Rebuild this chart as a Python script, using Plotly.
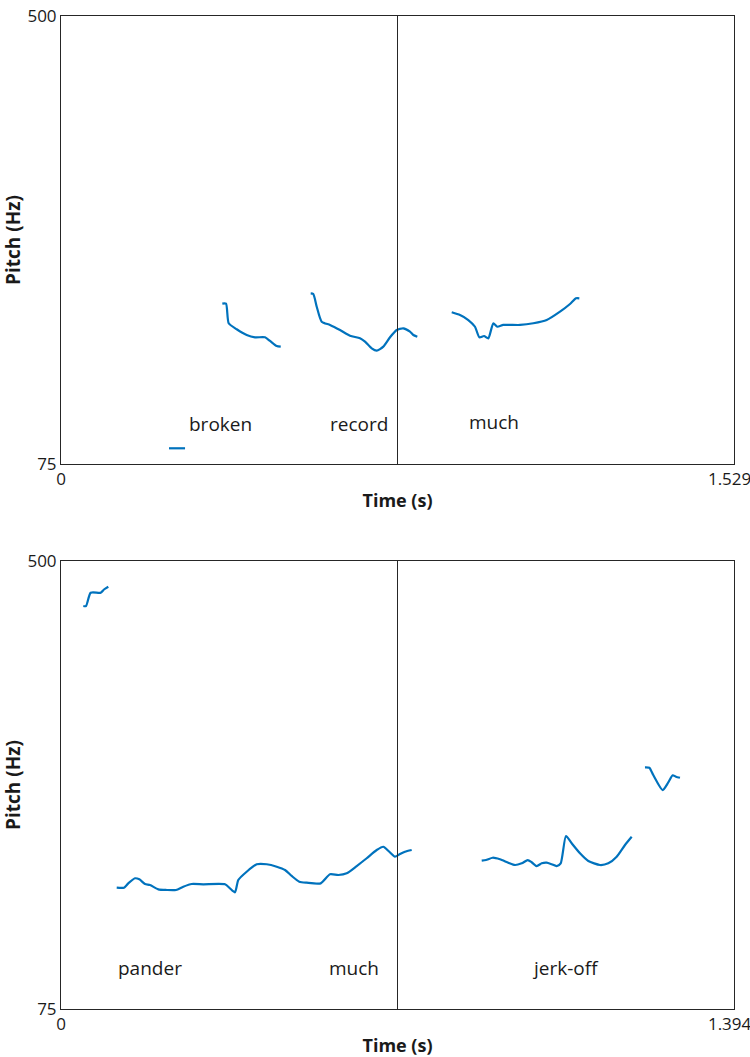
import plotly.graph_objects as go

# ---------------- data ----------------
# Top panel: "broken record much"
top_duration = 1.529
top_seg1_t = [0.2454, 0.2818]
top_seg1_f = [89.9, 89.9]
top_seg2_t = [0.3665, 0.3749, 0.3810, 0.3992, 0.4219, 0.4408, 0.4635, 0.4749, 0.4901, 0.4992]
top_seg2_f = [227.1, 227.1, 208.5, 202.8, 197.4, 195.2, 195.2, 191.7, 186.9, 186.3]
top_seg3_t = [0.5673, 0.5732, 0.5810, 0.5923, 0.6112, 0.6339, 0.6566, 0.6793, 0.6907, 0.7059,
              0.7173, 0.7323, 0.7475, 0.7627, 0.7777, 0.7929, 0.8004, 0.8095]
top_seg3_f = [236.9, 236.3, 224.2, 210.0, 206.9, 202.1, 196.7, 194.2, 191.0, 184.7,
              182.5, 186.3, 195.2, 202.1, 203.7, 200.5, 197.4, 195.8]
top_seg4_t = [0.8877, 0.9065, 0.9254, 0.9406, 0.9504, 0.9611, 0.9708, 0.9822, 0.9913, 1.0049,
              1.0429, 1.0731, 1.1035, 1.1337, 1.1564, 1.1701, 1.1776]
top_seg4_f = [218.9, 216.3, 211.6, 205.2, 195.2, 196.4, 194.2, 208.5, 205.2, 206.9,
              206.9, 208.5, 211.6, 219.5, 226.8, 232.2, 232.2]
top_words = ["broken", "record", "much"]
top_word_t = [0.3613, 0.6771, 0.9838]
top_word_f = [112.9, 112.9, 115.3]

# Bottom panel: "pander much jerk-off"
bot_duration = 1.394
bot_seg1_t = [0.0462, 0.0518, 0.0615, 0.0822, 0.0897, 0.0980]
bot_seg1_f = [457.3, 457.3, 469.9, 469.9, 473.2, 475.6]
bot_seg2_t = [0.1154, 0.1305, 0.1394, 0.1533, 0.1622, 0.1740, 0.1843, 0.2015, 0.2189, 0.2382,
              0.2533, 0.2707, 0.2947, 0.3397, 0.3500, 0.3604, 0.3672, 0.3846, 0.4054, 0.4261,
              0.4468, 0.4640, 0.4779, 0.4936, 0.5089, 0.5379, 0.5572, 0.5744, 0.5918, 0.6125,
              0.6332, 0.6539, 0.6676, 0.6800, 0.6918, 0.7022, 0.7125, 0.7264]
bot_seg2_f = [190.1, 190.1, 194.2, 199.0, 198.0, 193.6, 192.6, 188.5, 187.9, 187.9,
              191.0, 193.6, 193.3, 193.3, 189.5, 185.7, 197.4, 205.2, 212.3, 212.3,
              210.0, 206.9, 201.2, 195.8, 194.8, 194.2, 202.8, 202.1, 203.7, 210.6,
              218.0, 225.8, 228.9, 224.2, 219.5, 222.0, 224.2, 225.8]
bot_seg3_t = [0.8714, 0.8803, 0.8942, 0.9093, 0.9265, 0.9404, 0.9543, 0.9667, 0.9750, 0.9853,
              0.9957, 1.0060, 1.0164, 1.0267, 1.0350, 1.0460, 1.0578, 1.0750, 1.0922, 1.1164,
              1.1336, 1.1510, 1.1682, 1.1821]
bot_seg3_f = [215.7, 216.3, 218.5, 217.0, 213.8, 211.6, 213.2, 216.3, 214.2, 210.6,
              213.2, 213.8, 212.3, 210.6, 213.2, 239.1, 232.2, 222.7, 215.4, 211.6,
              213.2, 219.5, 230.6, 238.4]
bot_seg4_t = [1.2096, 1.2186, 1.2268, 1.2463, 1.2579, 1.2670, 1.2738, 1.2821]
bot_seg4_f = [304.3, 303.9, 297.0, 282.7, 290.0, 296.7, 295.4, 294.4]
bot_words = ["pander", "much", "jerk-off"]
bot_word_t = [0.1852, 0.6060, 1.0460]
bot_word_f = [113.9, 113.9, 113.9]

f_min, f_max = 75, 500
x_tick_labels_top = ["0", "1.529"]
x_tick_labels_bot = ["0", "1.394"]
y_tick_labels = ["75", "500"]

# ---------------- figure ----------------
LINE = "#0072BD"
AX = "#262626"
TXT = "#1a1a1a"
FONT = "Open Sans"

fig = go.Figure()

top_segments = [(top_seg1_t, top_seg1_f), (top_seg2_t, top_seg2_f),
                (top_seg3_t, top_seg3_f), (top_seg4_t, top_seg4_f)]
bot_segments = [(bot_seg1_t, bot_seg1_f), (bot_seg2_t, bot_seg2_f),
                (bot_seg3_t, bot_seg3_f), (bot_seg4_t, bot_seg4_f)]

for t, f in top_segments:
    fig.add_trace(go.Scatter(x=t, y=f, mode="lines",
                             line=dict(color=LINE, width=2.2, shape="spline", smoothing=0.6),
                             xaxis="x", yaxis="y", showlegend=False, hoverinfo="skip"))
for t, f in bot_segments:
    fig.add_trace(go.Scatter(x=t, y=f, mode="lines",
                             line=dict(color=LINE, width=2.2, shape="spline", smoothing=0.6),
                             xaxis="x2", yaxis="y2", showlegend=False, hoverinfo="skip"))

# midpoint divider lines
fig.add_trace(go.Scatter(x=[top_duration / 2, top_duration / 2], y=[f_min, f_max], mode="lines",
                         line=dict(color=AX, width=1), xaxis="x", yaxis="y",
                         showlegend=False, hoverinfo="skip"))
fig.add_trace(go.Scatter(x=[bot_duration / 2, bot_duration / 2], y=[f_min, f_max], mode="lines",
                         line=dict(color=AX, width=1), xaxis="x2", yaxis="y2",
                         showlegend=False, hoverinfo="skip"))

annotations = []
for w, t, f in zip(top_words, top_word_t, top_word_f):
    annotations.append(dict(x=t, y=f, xref="x", yref="y", text=w, showarrow=False,
                            font=dict(family=FONT, size=19, color=TXT)))
for w, t, f in zip(bot_words, bot_word_t, bot_word_f):
    annotations.append(dict(x=t, y=f, xref="x2", yref="y2", text=w, showarrow=False,
                            font=dict(family=FONT, size=19, color=TXT)))

H = 1057
mt, mb = 16, 48
ph = H - mt - mb


def dom(top_px, bottom_px):
    return [(H - mb - bottom_px) / ph, (H - mb - top_px) / ph]


def xax(dur, labels, anchor):
    # the right-end label is padded so that it stays inside the page like the reference
    texts = [labels[0], labels[1] + "\u00a0\u00a0"]
    return dict(range=[0, dur], tickvals=[0, dur], ticktext=texts,
                showline=True, mirror=True, linecolor=AX, linewidth=1,
                showgrid=False, zeroline=False, ticks="", anchor=anchor,
                ticklabeloverflow="allow",
                tickfont=dict(family=FONT, size=17, color=TXT),
                title=dict(text="<b>Time (s)</b>", standoff=4,
                           font=dict(family=FONT, size=18, color=TXT)),
                automargin=False)


def yax(domain, anchor):
    return dict(range=[f_min, f_max], tickvals=[f_min, f_max], ticktext=y_tick_labels,
                domain=domain, showline=True, mirror=True, linecolor=AX, linewidth=1,
                showgrid=False, zeroline=False, ticks="", anchor=anchor,
                ticklabeloverflow="allow",
                tickfont=dict(family=FONT, size=17, color=TXT),
                title=dict(text="<b>Pitch (Hz)</b>", standoff=2,
                           font=dict(family=FONT, size=19, color=TXT)),
                automargin=False)


fig.update_layout(
    width=750, height=H,
    margin=dict(l=61, r=16, t=mt, b=mb),
    paper_bgcolor="white", plot_bgcolor="white",
    xaxis=xax(top_duration, x_tick_labels_top, "y"),
    yaxis=yax(dom(16, 464), "x"),
    xaxis2=xax(bot_duration, x_tick_labels_bot, "y2"),
    yaxis2=yax(dom(561, 1009), "x2"),
    annotations=annotations,
    font=dict(family=FONT),
)

fig.write_html("out.html",
               config={"displayModeBar": False},
               post_script="document.body.style.margin='0';document.body.style.overflow='hidden';")
